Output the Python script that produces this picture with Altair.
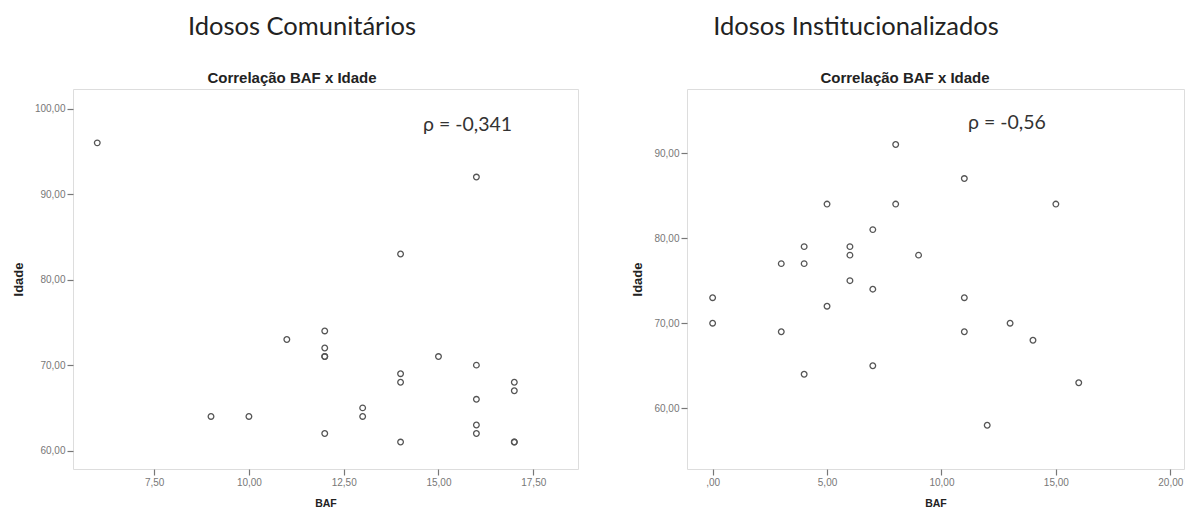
import altair as alt
import pandas as pd

# Idosos Comunitários
baf_com = [6, 9, 10, 11, 12, 12, 12, 12, 12, 13, 13, 14, 14, 14, 14, 15, 16, 16, 16, 16, 16, 17, 17, 17, 17]
idade_com = [96, 64, 64, 73, 74, 72, 71, 71, 62, 65, 64, 83, 69, 68, 61, 71, 92, 70, 66, 63, 62, 68, 67, 61, 61]

# Idosos Institucionalizados
baf_inst = [0, 0, 3, 3, 4, 4, 4, 5, 5, 6, 6, 6, 7, 7, 7, 8, 8, 9, 11, 11, 11, 12, 13, 14, 15, 16]
idade_inst = [73, 70, 77, 69, 79, 77, 64, 84, 72, 79, 78, 75, 81, 74, 65, 91, 84, 78, 87, 73, 69, 58, 70, 68, 84, 63]

heading_com = "Idosos Comunitários"
heading_inst = "Idosos Institucionalizados"
subtitle = "Correlação BAF x Idade"
rho_com = "ρ  = -0,341"
rho_inst = "ρ  = -0,56"

xticks_com = [7.5, 10, 12.5, 15, 17.5]
yticks_com = [60, 70, 80, 90, 100]
xticks_inst = [0, 5, 10, 15, 20]
yticks_inst = [60, 70, 80, 90]

label_expr = "datum.value == 0 ? ',00' : replace(format(datum.value, '.2f'), '.', ',')"

AX = dict(
    labelExpr=label_expr, grid=False, domain=False,
    tickColor="#777", tickSize=6, tickWidth=1.2,
    labelFont="Liberation Sans", labelFontSize=10, labelColor="#777",
    titleFont="Liberation Sans", titleFontWeight="bold", titleColor="#222",
)


def panel(bafs, idades, xdom, ydom, xt, yt, w, h, heading, head_x, sub_x, rho, rho_x, rho_y):
    df = pd.DataFrame({"BAF": bafs, "Idade": idades})
    pts = alt.Chart(df).mark_point(
        shape="circle", filled=False, size=32, stroke="#555", strokeWidth=1.3, opacity=1
    ).encode(
        x=alt.X("BAF:Q", scale=alt.Scale(domain=xdom, nice=False, zero=False),
                axis=alt.Axis(values=xt, title="BAF", labelPadding=2, titlePadding=11,
                              titleFontSize=10.5, **AX)),
        y=alt.Y("Idade:Q", scale=alt.Scale(domain=ydom, nice=False, zero=False),
                axis=alt.Axis(values=yt, title="Idade", labelPadding=2, titlePadding=9,
                              titleFontSize=13, **AX)),
    )
    head = alt.Chart(pd.DataFrame({"t": [heading]})).mark_text(
        font="Lato", fontSize=25.5, color="#222", align="center", baseline="middle"
    ).encode(text="t:N", x=alt.value(head_x), y=alt.value(-62))
    sub = alt.Chart(pd.DataFrame({"t": [subtitle]})).mark_text(
        font="Liberation Sans", fontSize=15, fontWeight="bold", color="#222",
        align="center", baseline="middle"
    ).encode(text="t:N", x=alt.value(sub_x), y=alt.value(-11))
    rt = alt.Chart(pd.DataFrame({"t": [rho]})).mark_text(
        font="Lato", fontSize=19.5, color="#333", align="left", baseline="middle"
    ).encode(text="t:N", x=alt.value(rho_x), y=alt.value(rho_y))
    return alt.layer(pts, head, sub, rt).properties(width=w, height=h)


left = panel(baf_com, idade_com, [5.36, 18.68], [57.85, 102.3], xticks_com, yticks_com,
             505, 380, heading_com, 229, 219, rho_com, 350, 36)
right = panel(baf_inst, idade_inst, [-1.12, 20.6], [52.86, 97.53], xticks_inst, yticks_inst,
              497, 380, heading_inst, 169, 218, rho_inst, 281, 34)

chart = alt.hconcat(left, right, spacing=52).properties(
    padding={"left": 11, "top": 14, "right": 0, "bottom": 0}
).configure_view(stroke="#808080", strokeWidth=2).configure(background="white")

chart.save("out.html", embed_options={"renderer": "svg", "actions": False})
